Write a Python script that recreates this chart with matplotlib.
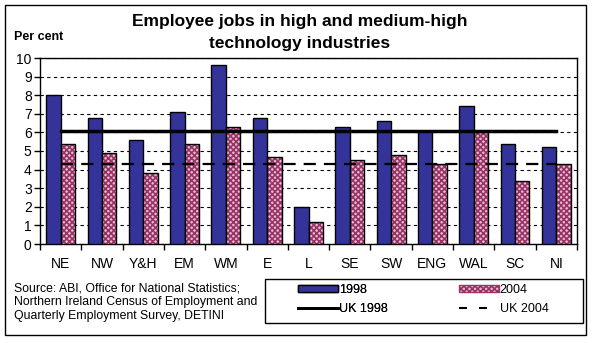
import numpy as np
import matplotlib
matplotlib.use("Agg")
import matplotlib.pyplot as plt
from matplotlib.patches import Patch, Rectangle
from matplotlib.lines import Line2D

plt.rcParams['font.family'] = ['Liberation Sans', 'DejaVu Sans']
plt.rcParams['hatch.linewidth'] = 1.2

regions = ['NE', 'NW', 'Y&H', 'EM', 'WM', 'E', 'L', 'SE', 'SW', 'ENG', 'WAL', 'SC', 'NI']
jobs_1998 = [8.0, 6.8, 5.6, 7.1, 9.6, 6.8, 2.0, 6.3, 6.6, 6.1, 7.4, 5.4, 5.2]
jobs_2004 = [5.4, 4.9, 3.8, 5.4, 6.3, 4.7, 1.2, 4.5, 4.8, 4.3, 6.0, 3.4, 4.3]
uk_1998 = 6.1
uk_2004 = 4.3

blue = '#333399'
pink_dark = '#993366'
pink_face = '#e6bdd2'
uk04_dash = (5.5, 3.6)

fig = plt.figure(figsize=(5.95, 3.43), dpi=100)
ax = fig.add_axes([40 / 595, 1 - 244 / 343, 537 / 595, 186 / 343])

x = np.arange(len(regions))
w = 0.35

ax.bar(x - w / 2, jobs_1998, w, color=blue, edgecolor='black', linewidth=1, zorder=3)
# checkered fill for 2004, then a black outline on top
ax.bar(x + w / 2, jobs_2004, w, color=pink_face, edgecolor=pink_dark, hatch='xxxxxx',
       linewidth=0, zorder=3)
ax.bar(x + w / 2, jobs_2004, w, color='none', edgecolor='black', linewidth=1, zorder=4)

ax.plot(x, [uk_1998] * len(x), color='black', linewidth=2.5, zorder=5)
ax.plot(x, [uk_2004] * len(x), color='black', linewidth=1.6, dashes=uk04_dash, zorder=5)

ax.set_xlim(-0.5, len(regions) - 0.5)
ax.set_ylim(0, 10)
ax.set_yticks(range(0, 11))
ax.set_yticklabels([str(i) for i in range(0, 11)], fontsize=10)
ax.yaxis.grid(True, color='black', linestyle=(0, (3, 3)), linewidth=0.8, zorder=1)
ax.set_axisbelow(True)

ax.set_xticks(np.arange(-0.5, len(regions)), minor=False)
ax.set_xticklabels([])
ax.set_xticks(x, minor=True)
ax.set_xticklabels(regions, minor=True, fontsize=10)
ax.tick_params(axis='x', which='minor', length=0, pad=9)
ax.tick_params(axis='x', which='major', length=4, direction='out', width=1)
ax.tick_params(axis='y', length=4, direction='out', width=1, pad=2)
for s in ax.spines.values():
    s.set_linewidth(1)

fig.text(300 / 595, 1 - 32.5 / 343, 'Employee jobs in high and medium-high\ntechnology industries',
         ha='center', va='center', fontsize=12.5, fontweight='bold', linespacing=1.55)
fig.text(14 / 595, 1 - 37 / 343, 'Per cent', ha='left', va='center', fontsize=9, fontweight='bold')

fig.text(14 / 595, 1 - 302.5 / 343,
         'Source: ABI, Office for National Statistics;\n'
         'Northern Ireland Census of Employment and\n'
         'Quarterly Employment Survey, DETINI',
         ha='left', va='center', fontsize=8.8, linespacing=1.22)

# legend: framed box with two columns of entries
fig.patches.append(Rectangle((265 / 595, 1 - 323 / 343), 318 / 595, 44 / 343,
                             transform=fig.transFigure, fill=False,
                             edgecolor='black', linewidth=1))
leg_kw = dict(loc='upper left', frameon=False, fontsize=9, handlelength=3.2,
              handleheight=0.5, handletextpad=0.05, borderaxespad=0, borderpad=0,
              labelspacing=0.55)
leg1 = fig.legend(handles=[
    Patch(facecolor=blue, edgecolor='black', label='1998'),
    Line2D([], [], color='black', linewidth=2, label='UK 1998'),
], bbox_to_anchor=(298 / 595, 1 - 284 / 343), **leg_kw)
leg2 = fig.legend(handles=[
    Patch(facecolor=pink_face, edgecolor=pink_dark, hatch='xxxxxx', label='2004'),
    Line2D([], [], color='black', linewidth=1.5, linestyle=(0, (3.84, 5.76)), label='UK 2004'),
], bbox_to_anchor=(459 / 595, 1 - 284 / 343), **leg_kw)
fig.add_artist(leg1)

fig.patches.append(Rectangle((5 / 595, 1 - 335 / 343), 581 / 595, 330 / 343,
                             transform=fig.transFigure, fill=False,
                             edgecolor='black', linewidth=1))

fig.savefig('out.png', dpi=100)
